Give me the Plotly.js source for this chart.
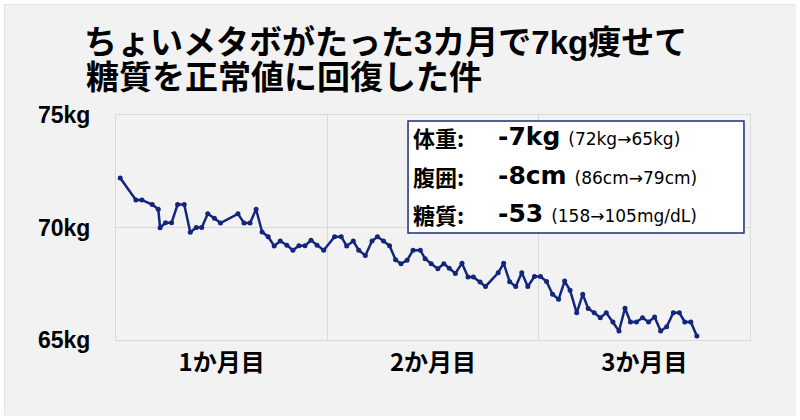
<!DOCTYPE html>
<html>
<head>
<meta charset="utf-8">
<script src="https://cdn.plot.ly/plotly-3.0.1.min.js"></script>
<style>
  html, body { margin: 0; padding: 0; background: #ffffff; }
  #chart { position: absolute; left: 4px; top: 4px; width: 791px; height: 411px; border: 1px solid #e2e2e2; box-sizing: border-box; }
</style>
</head>
<body>
<div id="chart"></div>
<script>
const days = [0.7,3.3,4.3,6.0,7.0,7.3,8.2,9.2,10.2,11.3,
  12.3,13.3,14.2,15.2,16.3,17.3,20.2,21.2,22.2,23.2,
  24.2,25.2,26.2,27.2,28.3,29.3,30.3,31.3,32.3,33.3,
  34.4,36.2,37.3,38.2,39.3,40.2,41.3,42.4,43.3,44.3,
  45.3,46.3,47.2,48.2,49.2,50.4,51.2,52.2,53.3,54.3,
  55.2,56.2,57.3,58.3,59.2,60.3,61.2,63.3,64.2,65.2,
  66.2,67.2,68.2,69.3,70.3,71.3,72.3,73.3,74.3,75.2,
  76.3,77.3,78.2,79.2,80.2,81.2,82.3,83.3,84.3,85.2,
  86.2,87.2,88.2,89.2,90.2,91.2,92.3,93.3,94.2,95.2,
  96.2];
// Body weight in kg
const weight = [72.20,71.22,71.22,71.02,70.81,69.99,70.21,70.21,71.02,71.02,
  69.79,70.00,70.00,70.61,70.41,70.20,70.61,70.20,70.20,70.81,
  69.80,69.59,69.18,69.40,69.21,68.99,69.19,69.19,69.43,69.21,
  68.99,69.59,69.59,69.18,69.40,68.99,68.76,69.40,69.59,69.40,
  69.19,68.57,68.39,68.54,68.99,68.99,68.61,68.39,68.17,68.39,
  68.19,67.96,68.41,67.80,67.80,67.58,67.38,67.99,68.41,67.59,
  67.38,67.99,67.38,67.82,67.82,67.60,67.03,66.81,67.62,67.21,
  66.21,67.03,66.40,66.21,65.99,66.21,65.80,65.40,66.41,65.80,
  65.80,65.99,65.80,66.02,65.40,65.59,66.21,66.21,65.80,65.80,
  65.18];

const monthLabelPos = [17.5, 52.5, 87.5];
const monthLabels = ['1か月目', '2か月目', '3か月目'];
const monthBounds = [35, 70];
const yTickVals = [65, 70, 75];
const yTickText = ['65kg', '70kg', '75kg'];

const titleLine1 = 'ちょいメタボがたった3カ月で7kg痩せて';
const titleLine2 = '糖質を正常値に回復した件';

const boxLabels = ['体重:', '腹囲:', '糖質:'];
const boxValues = ['-7kg', '-8cm', '-53'];
const boxDetails = ['(72kg→65kg)', '(86cm→79cm)', '(158→105mg/dL)'];

const CJK = '"Noto Sans CJK JP", "Noto Sans", sans-serif';
const TITLEF = '"Liberation Sans", "Noto Sans CJK JP", sans-serif';
const gridC = '#d9d9d9';

const trace = {
  x: days, y: weight, type: 'scatter', mode: 'lines+markers',
  line: { color: '#13267c', width: 2.5 },
  marker: { color: '#13267c', size: 5 },
  hoverinfo: 'skip'
};

const rowY = [0.904, 0.731, 0.562];
const annotations = [
  { text: '<b>' + titleLine2 + '</b>', xref: 'paper', yref: 'paper', x: -0.0505, y: 1.1645,
    xanchor: 'left', yanchor: 'middle', showarrow: false,
    font: { family: TITLEF, size: 33, color: '#000000' } }
];
for (let i = 0; i < 3; i++) {
  annotations.push({ text: '<b>' + boxLabels[i] + '</b>', xref: 'paper', yref: 'paper',
    x: 0.466, y: rowY[i], xanchor: 'left', yanchor: 'middle', showarrow: false,
    font: { family: CJK, size: 22, color: '#000000' } });
  annotations.push({ text: '<b>' + boxValues[i] + '</b> <span style="font-size:17px">' + boxDetails[i] + '</span>',
    xref: 'paper', yref: 'paper', x: 0.6, y: rowY[i], xanchor: 'left', yanchor: 'middle', showarrow: false,
    font: { family: '"DejaVu Sans", Verdana, sans-serif', size: 25, color: '#000000' } });
}

const layout = {
  width: 791, height: 411,
  margin: { l: 111, r: 46, t: 110, b: 76 },
  paper_bgcolor: '#f2f2f2', plot_bgcolor: '#f2f2f2',
  showlegend: false,
  title: { text: '<b>' + titleLine1 + '</b>', xref: 'container', x: 0.0999, xanchor: 'left',
    yref: 'container', y: 0.908, yanchor: 'middle', pad: { l: 0, r: 0, t: 0, b: 0 },
    font: { family: TITLEF, size: 33, color: '#000000' } },
  xaxis: {
    range: [0, 105], tickmode: 'array', tickvals: monthLabelPos, ticktext: monthLabels,
    showgrid: false, zeroline: false, showline: true, mirror: true, linecolor: gridC, linewidth: 1,
    ticks: '', ticklabelstandoff: 1,
    tickfont: { family: CJK, size: 24, color: '#000000', weight: 'bold' },
    minor: { tickmode: 'array', tickvals: monthBounds, showgrid: true, gridcolor: gridC, gridwidth: 1.5, ticks: '' },
    fixedrange: true
  },
  yaxis: {
    range: [65, 75], tickmode: 'array', tickvals: yTickVals, ticktext: yTickText,
    showgrid: true, gridcolor: gridC, gridwidth: 1.5, zeroline: false,
    showline: true, mirror: true, linecolor: gridC, linewidth: 1,
    ticks: '', ticklabelstandoff: 20,
    tickfont: { family: '"Liberation Sans", Arial, sans-serif', size: 23, color: '#000000', weight: 'bold' },
    fixedrange: true
  },
  shapes: [
    { type: 'rect', xref: 'paper', yref: 'paper', x0: 0.4606, x1: 0.9905, y0: 0.4756, y1: 0.9733,
      fillcolor: '#ffffff', line: { color: '#1c2e78', width: 1.5 }, layer: 'above' }
  ],
  annotations: annotations
};

Plotly.newPlot('chart', [trace], layout, { displayModeBar: false, staticPlot: true });
</script>
</body>
</html>
